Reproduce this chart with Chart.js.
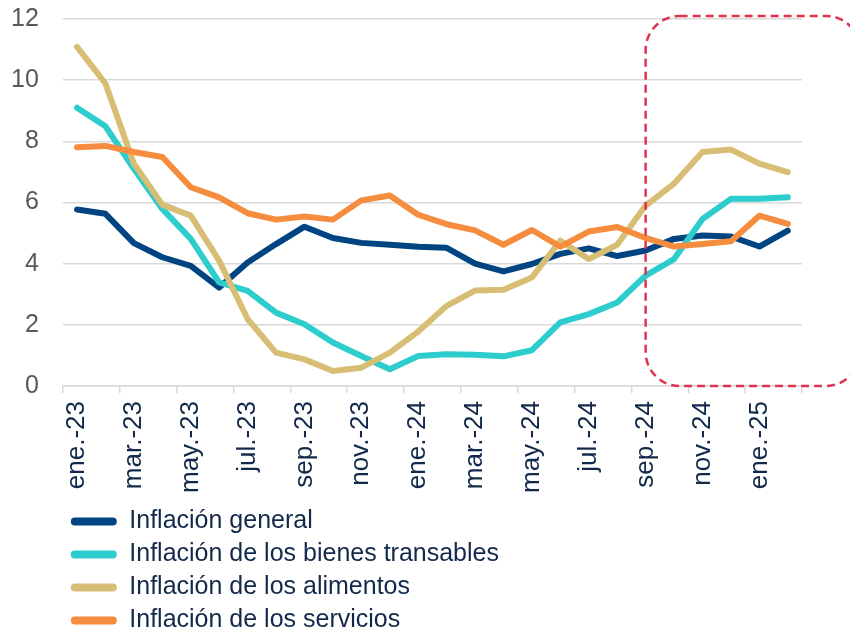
<!DOCTYPE html>
<html lang="es">
<head>
  <meta charset="UTF-8" />
  <title>Inflación</title>
  <script src="https://cdn.jsdelivr.net/npm/chart.js"></script>
  <style>
    html, body { margin: 0; padding: 0; background: #ffffff; }
    .wrap { width: 850px; height: 631px; position: relative; }
  </style>
</head>
<body>
  <div class="wrap">
    <canvas id="inflChart" width="850" height="631"></canvas>
  </div>

  <script>
    const meses = [
      'ene.-23', 'feb.-23', 'mar.-23', 'abr.-23', 'may.-23', 'jun.-23',
      'jul.-23', 'ago.-23', 'sep.-23', 'oct.-23', 'nov.-23', 'dic.-23',
      'ene.-24', 'feb.-24', 'mar.-24', 'abr.-24', 'may.-24', 'jun.-24',
      'jul.-24', 'ago.-24', 'sep.-24', 'oct.-24', 'nov.-24', 'dic.-24',
      'ene.-25', 'feb.-25'
    ];

    const general = [5.77, 5.63, 4.67, 4.21, 3.93, 3.22, 4.04, 4.64, 5.21, 4.84, 4.68, 4.62, 4.55,
                     4.52, 4.0, 3.75, 3.99, 4.32, 4.5, 4.25, 4.43, 4.81, 4.92, 4.89, 4.56, 5.08];
    const transables = [9.10, 8.49, 7.10, 5.79, 4.81, 3.39, 3.11, 2.40, 2.02, 1.42, 0.98, 0.55, 0.98,
                        1.04, 1.02, 0.97, 1.17, 2.08, 2.35, 2.73, 3.61, 4.15, 5.46, 6.12, 6.12, 6.17];
    const alimentos = [11.09, 9.89, 7.27, 5.93, 5.57, 4.10, 2.19, 1.09, 0.87, 0.49, 0.60, 1.09, 1.78,
                       2.62, 3.12, 3.15, 3.55, 4.75, 4.15, 4.62, 5.90, 6.62, 7.65, 7.73, 7.27, 6.99];
    const servicios = [7.81, 7.85, 7.65, 7.49, 6.50, 6.17, 5.65, 5.44, 5.54, 5.44, 6.07, 6.23, 5.60,
                       5.29, 5.09, 4.62, 5.10, 4.56, 5.05, 5.20, 4.84, 4.56, 4.64, 4.73, 5.57, 5.30];

    const yTicks = [0, 2, 4, 6, 8, 10, 12];

    // recuadro punteado: desde sep.-24 hasta el borde derecho
    const boxStart = 'sep.-24';
    const boxTop = 12.1;

    const FONT = "'Liberation Sans', Arial, sans-serif";
    const NAVY_TEXT = '#13294b';

    function serie(label, data, color, order) {
      return {
        label: label,
        data: data,
        borderColor: color,
        backgroundColor: color,
        borderWidth: 6,
        borderCapStyle: 'round',
        borderJoinStyle: 'round',
        pointRadius: 0,
        pointHoverRadius: 0,
        tension: 0,
        fill: false,
        order: order
      };
    }

    const dashedBox = {
      id: 'dashedBox',
      afterDatasetsDraw(chart) {
        const x = chart.scales.x, y = chart.scales.y;
        const ctx = chart.ctx;
        const left = x.getPixelForValue(meses.indexOf(boxStart));
        const top = y.getPixelForValue(boxTop);
        const bottom = y.getPixelForValue(0);
        const right = chart.width + 10;
        ctx.save();
        ctx.strokeStyle = '#e0334f';
        ctx.lineWidth = 2.5;
        ctx.setLineDash([8, 5]);
        ctx.beginPath();
        ctx.roundRect(left, top, right - left, bottom - top, 34);
        ctx.stroke();
        ctx.restore();
      }
    };

    new Chart(document.getElementById('inflChart').getContext('2d'), {
      type: 'line',
      data: {
        labels: meses,
        datasets: [
          serie('Inflación general', general, '#004481', 4),
          serie('Inflación de los bienes transables', transables, '#2dcccd', 3),
          serie('Inflación de los alimentos', alimentos, '#d8be75', 2),
          serie('Inflación de los servicios', servicios, '#f68c3e', 1)
        ]
      },
      options: {
        responsive: false,
        animation: false,
        layout: { padding: { top: 0, left: -13, right: 48, bottom: -12 } },
        plugins: {
          tooltip: { enabled: false },
          title: {
            display: false,
            position: 'bottom',
            fullSize: false,
            stack: 'leyenda',
            stackWeight: 2
          },
          legend: {
            position: 'bottom',
            align: 'start',
            fullSize: false,
            stack: 'leyenda',
            stackWeight: 8,
            labels: {
              font: { family: FONT, size: 25 },
              color: NAVY_TEXT,
              boxWidth: 46,
              boxHeight: 8,
              padding: 8,
              useBorderRadius: true,
              borderRadius: 4,
              sort: (a, b) => a.datasetIndex - b.datasetIndex,
              generateLabels(chart) {
                const items = Chart.defaults.plugins.legend.labels.generateLabels(chart);
                return items.map(it => Object.assign(it, { lineWidth: 0 }));
              }
            }
          }
        },
        scales: {
          x: {
            offset: true,
            grid: {
              offset: true,
              drawOnChartArea: false,
              drawTicks: true,
              tickLength: 7,
              lineWidth: 1.5,
              tickColor: ctx => (ctx.index === undefined || ctx.index % 2 === 0) ? '#d9d9d9' : 'rgba(0,0,0,0)'
            },
            border: { display: true, color: '#d9d9d9', width: 1.5 },
            ticks: {
              autoSkip: false,
              maxRotation: 90,
              minRotation: 90,
              padding: 8,
              color: NAVY_TEXT,
              font: { family: FONT, size: 26 },
              callback: function (value, index) {
                return index % 2 === 0 ? this.getLabelForValue(value) : '';
              }
            }
          },
          y: {
            min: 0,
            max: 12,
            afterBuildTicks: axis => { axis.ticks = yTicks.map(v => ({ value: v })); },
            afterFit: axis => { axis.paddingTop = 19; },
            grid: { color: '#d9d9d9', lineWidth: 1.5, drawTicks: false },
            border: { display: false },
            ticks: {
              padding: 24,
              color: '#595959',
              font: { family: FONT, size: 25 }
            }
          }
        }
      },
      plugins: [dashedBox]
    });
  </script>
</body>
</html>
